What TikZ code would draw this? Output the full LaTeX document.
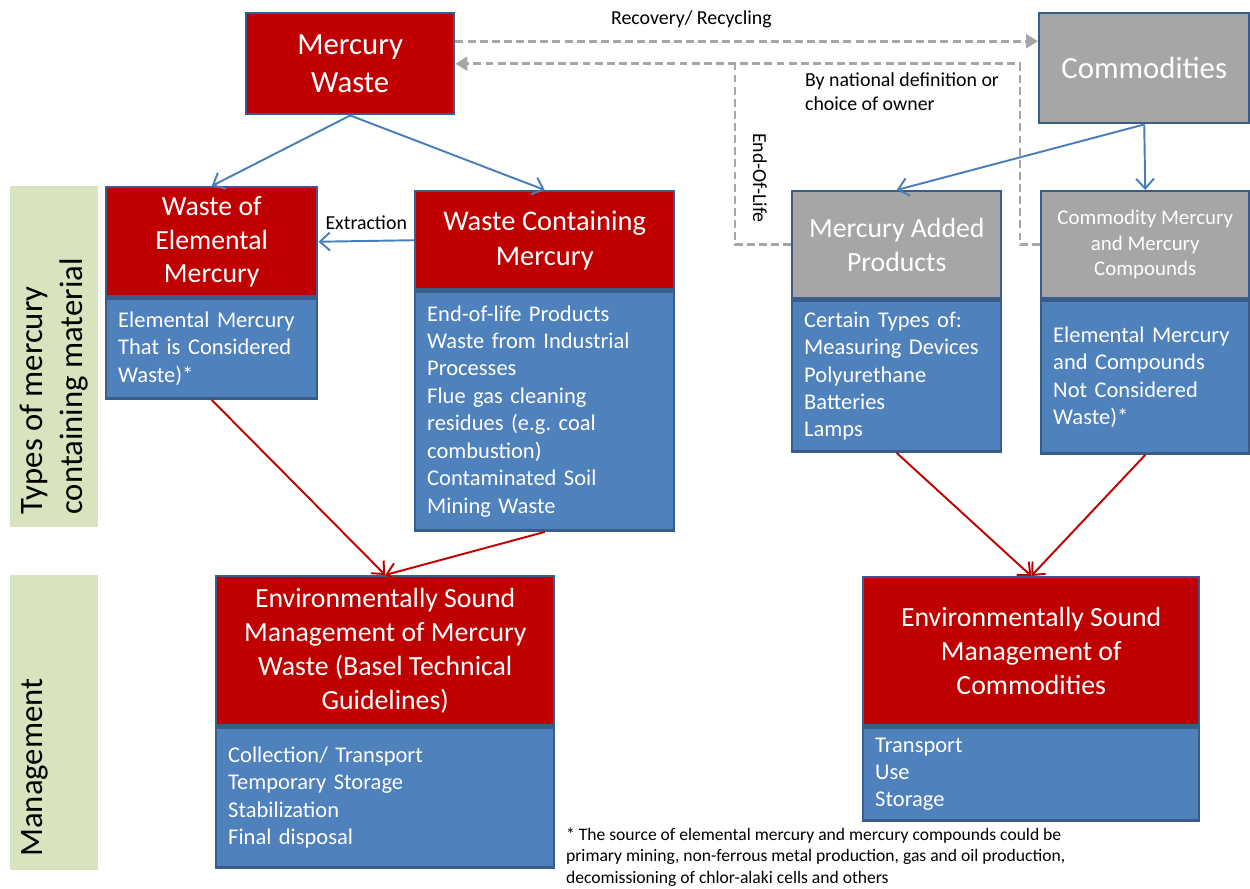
\documentclass[tikz,border=0pt]{standalone}
\usepackage{fontspec}
\setmainfont{Carlito}
\usepackage{xcolor}
\usetikzlibrary{arrows.meta, positioning}
\definecolor{hgred}{HTML}{C00000}
\definecolor{hgblue}{HTML}{4F81BD}
\definecolor{hgedge}{HTML}{385D8A}
\definecolor{hggray}{HTML}{A6A6A6}
\definecolor{hgline}{HTML}{4A7EBB}
\definecolor{hgband}{HTML}{D7E4BD}
\newcommand{\bigfnt}{\fontsize{17.5}{21.5}\selectfont}
\newcommand{\hdfnt}{\fontsize{15.8}{19.3}\selectfont}
\newcommand{\smhdfnt}{\fontsize{11.9}{14.5}\selectfont}
\newcommand{\bdfnt}{\fontsize{12.8}{15.6}\selectfont}
\newcommand{\lblfnt}{\fontsize{11.3}{13.6}\selectfont}
\newcommand{\notefnt}{\fontsize{10}{12.2}\selectfont}
\newcommand{\bandfnt}{\fontsize{18.6}{22.7}\selectfont}
\frenchspacing
\tikzset{
  redhd/.style={rectangle, draw=hgedge, line width=1.4pt, fill=hgred, text=white, align=center, inner sep=1mm, anchor=north west, font=\hdfnt},
  grayhd/.style={redhd, fill=hggray, text=white},
  listbox/.style={rectangle, draw=hgedge, line width=1.4pt, fill=hgblue, text=white, align=left, inner xsep=2.4mm, inner ysep=1mm, font=\bdfnt},
  band/.style={rectangle, fill=hgband, rotate=90, minimum height=17.6mm},
  bandtxt/.style={rotate=90, anchor=west, align=left, inner sep=0pt, font=\bandfnt},
  lbl/.style={inner sep=1pt, font=\lblfnt, align=left, text=black},
  bluearr/.style={-{Straight Barb[length=2mm, width=3.6mm]}, line width=1.1pt, hgline},
  redarr/.style={-{Straight Barb[length=2mm, width=3.6mm]}, line width=1.1pt, hgred},
  dashln/.style={line width=1.6pt, hggray, dash pattern=on 4.5pt off 2.4pt},
  dasharr/.style={dashln, -{Triangle[length=2.4mm, width=2.8mm]}},
}

\begin{document}
\begin{tikzpicture}[x=0.2mm, y=-0.2mm]
\useasboundingbox (0,0) rectangle (1250,889);
% side bands
\node[band, minimum width=68.2mm] (types) at (54,356.5) {};
\node[band, minimum width=59mm] (mgmt) at (54,722.5) {};
\node[bandtxt] (typestxt) at (54,515) {Types of mercury\\containing material};
\node[bandtxt] (mgmttxt) at (35,857) {Management};
% top row
\node[redhd, font=\bigfnt, minimum width=41.6mm, minimum height=20.2mm] (mw) at (245,12) {Mercury\\Waste};
\node[grayhd, font=\bigfnt, minimum width=42mm, minimum height=22mm] (comm) at (1038,12) {Commodities};
% material types
\node[redhd, minimum width=42.2mm, minimum height=21.8mm] (wem) at (105,186) {Waste of\\Elemental\\Mercury};
\node[listbox, below=0pt of wem, minimum width=42.2mm, minimum height=20mm, text width=37.4mm] (wemb) {Elemental Mercury\\That is Considered\\Waste)*};
\node[redhd, font=\fontsize{16.2}{19.8}\selectfont, minimum width=51.8mm, minimum height=19.6mm] (wcm) at (414,190) {Waste Containing\\Mercury};
\node[listbox, below=0pt of wcm, minimum width=51.8mm, minimum height=47.8mm, text width=47mm] (wcmb) {End-of-life Products\\Waste from Industrial\\Processes\\Flue gas cleaning\\residues (e.g. coal\\combustion)\\Contaminated Soil\\Mining Waste};
\node[grayhd, minimum width=41.8mm, minimum height=21.4mm] (map) at (791,190) {Mercury Added\\Products};
\node[listbox, below=0pt of map, minimum width=41.8mm, minimum height=30.2mm, text width=37mm] (mapb) {Certain Types of:\\Measuring Devices\\Polyurethane\\Batteries\\Lamps};
\node[grayhd, font=\smhdfnt, minimum width=41.6mm, minimum height=21.4mm] (cmc) at (1040,190) {Commodity Mercury\\and Mercury\\Compounds};
\node[listbox, below=0pt of cmc, minimum width=41.6mm, minimum height=30.6mm, text width=36.8mm] (cmcb) {Elemental Mercury\\and Compounds\\Not Considered\\Waste)*};
% management
\node[redhd, minimum width=67.6mm, minimum height=29.8mm] (esmw) at (215,575) {Environmentally Sound\\Management of Mercury\\Waste (Basel Technical\\Guidelines)};
\node[listbox, below=0pt of esmw, minimum width=67.6mm, minimum height=28mm, text width=62.8mm] (esmwb) {Collection/ Transport\\Temporary Storage\\Stabilization\\Final disposal};
\node[redhd, minimum width=67.2mm, minimum height=29.6mm] (esmc) at (862,576) {Environmentally Sound\\Management of\\Commodities};
\node[listbox, below=0pt of esmc, minimum width=67.2mm, minimum height=18.6mm, text width=62.4mm] (esmcb) {Transport\\Use\\Storage};
% connectors
\draw[bluearr] (mw.south) -- (wem.north);
\draw[bluearr] (mw.south) -- (wcm.north);
\draw[bluearr] (wcm.west) -- node[lbl, above=5pt]{Extraction} (wem.east);
\draw[bluearr] (comm.south) -- (map.north);
\draw[bluearr] (comm.south) -- (cmc.north);
\draw[redarr] (wemb.south) -- (esmw.north);
\draw[redarr] (wcmb.south) -- (esmw.north);
\draw[redarr] (mapb.south) -- (esmc.north);
\draw[redarr] (cmcb.south) -- (esmc.north);
% recycling loop
\coordinate (rec) at ([yshift=4.5mm]mw.east);
\draw[dasharr] (rec) -- node[lbl, pos=0.405, above=6pt]{Recovery/ Recycling} (rec -| comm.west);
\draw[dasharr] (cmc.west) -- ++(-20,0) |- (mw.east);
\draw[dashln] (map.west) -- ++(-56,0) coordinate (eol) -- (eol |- mw.east);
\node[lbl, rotate=-90] (eoltxt) at (760,178) {End-Of-Life};
\node[lbl, anchor=west] (natdef) at (803,92) {By national definition or\\choice of owner};
\node[lbl, font=\notefnt, anchor=west] (note) at (564,857) {* The source of elemental mercury and mercury compounds could be\\primary mining, non-ferrous metal production, gas and oil production,\\decomissioning of chlor-alaki cells and others};
\end{tikzpicture}
\end{document}
